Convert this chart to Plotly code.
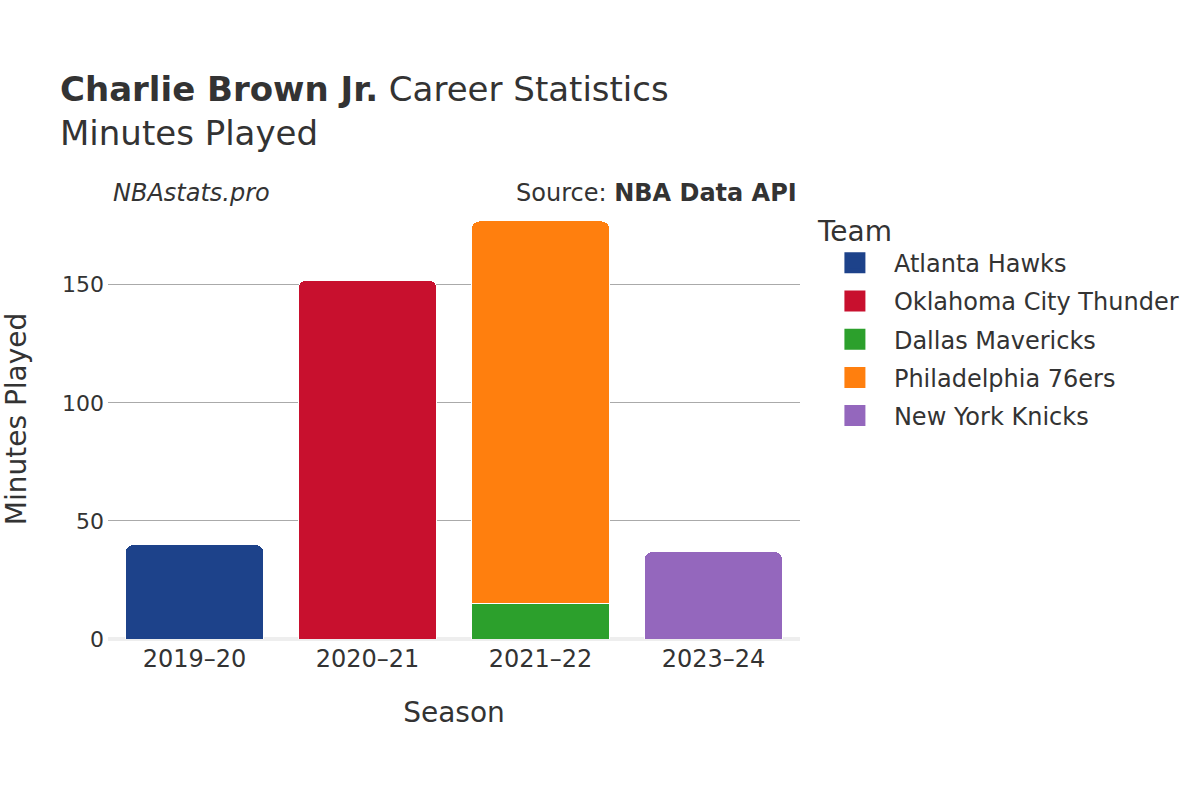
import plotly.graph_objects as go

seasons = ["2019–20", "2020–21", "2021–22", "2023–24"]
teams = ["Atlanta Hawks", "Oklahoma City Thunder", "Dallas Mavericks",
         "Philadelphia 76ers", "New York Knicks"]
team_colors = ["#1d428a", "#c8102e", "#2ca02c", "#ff7f0e", "#9467bd"]

# minutes per team per season (None = did not play for that team)
hawks = [40, None, None, None]
thunder = [None, 152, None, None]
mavericks = [None, None, 15, None]
sixers = [None, None, 162, None]
knicks = [None, None, None, 37]
minutes = [hawks, thunder, mavericks, sixers, knicks]

fig = go.Figure()
for team, color, vals in zip(teams, team_colors, minutes):
    fig.add_trace(go.Bar(x=seasons, y=vals, name=team, showlegend=False,
                         legendgroup=team,
                         marker=dict(color=color, line=dict(color="white", width=1))))

# legend-only entries so the swatches come out bigger
for team, color in zip(teams, team_colors):
    fig.add_trace(go.Scatter(x=[None], y=[None], mode="markers", name=team,
                             legendgroup=team,
                             marker=dict(symbol="square", size=16, color=color,
                                         line=dict(color=color, width=5))))

font = "DejaVu Sans, sans-serif"
fig.update_layout(
    width=1200, height=800,
    barmode="stack", bargap=0.2, barcornerradius=8,
    plot_bgcolor="white", paper_bgcolor="white",
    font=dict(family=font, size=24, color="#333"),
    margin=dict(l=108, r=400, t=199, b=161),
    title=dict(text="<b>Charlie Brown Jr.</b> Career Statistics<br>Minutes Played",
               x=0.05, xanchor="left", y=0.874, yanchor="top",
               font=dict(size=34, color="#333")),
    legend=dict(title=dict(text="Team", font=dict(size=28)), x=1.023, y=0.988,
                yanchor="top", font=dict(size=24), traceorder="grouped",
                tracegroupgap=4, itemwidth=68),
    xaxis=dict(title=dict(text="Season", font=dict(size=28), standoff=30),
               tickfont=dict(size=24), showgrid=False, ticks="", automargin=False,
               ticklabelstandoff=3),
    yaxis=dict(title=dict(text="Minutes Played", font=dict(size=28), standoff=31),
               tickfont=dict(size=22), gridcolor="#aaa", gridwidth=1,
               zeroline=True, zerolinecolor="#eee", zerolinewidth=4,
               tickvals=[0, 50, 100, 150], range=[0, 186.3], automargin=False,
               ticklabelstandoff=3),
    annotations=[
        dict(text="<i>NBAstats.pro</i>", x=0.004, y=0.978, xref="paper", yref="paper",
             xanchor="left", yanchor="bottom", showarrow=False, font=dict(size=24)),
        dict(text="Source: <b>NBA Data API</b>", x=0.999, y=0.978, xref="paper", yref="paper",
             xanchor="right", yanchor="bottom", showarrow=False, font=dict(size=24)),
    ],
)

fig.write_html("out.html", config={"displayModeBar": False},
               post_script="document.body.style.margin='0px';")
